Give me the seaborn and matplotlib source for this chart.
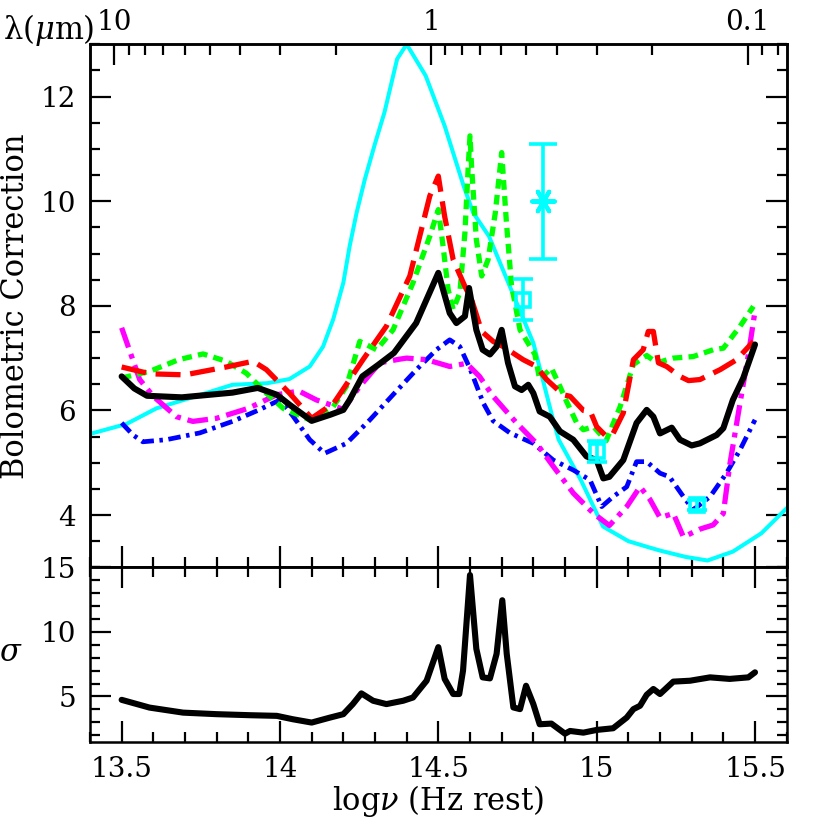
import numpy as np
import matplotlib
matplotlib.use("Agg")
import matplotlib.pyplot as plt
import seaborn as sns
from matplotlib.ticker import MultipleLocator, FixedLocator, FuncFormatter, NullFormatter

sns.set_style("ticks")
plt.rcParams['font.family'] = ['DejaVu Serif']
plt.rcParams['mathtext.fontset'] = 'dejavuserif'
plt.rcParams['lines.scale_dashes'] = False
for k in ('axes.edgecolor', 'xtick.color', 'ytick.color', 'text.color', 'axes.labelcolor'):
    plt.rcParams[k] = 'black'

# ---- data (log nu, bolometric correction) ----
cyan_x = [13.4, 13.515, 13.61, 13.75, 13.85, 13.96, 14.03, 14.094, 14.136, 14.168, 14.2, 14.22,
          14.242, 14.268, 14.3, 14.33, 14.37, 14.4, 14.46, 14.52, 14.58, 14.61, 14.66, 14.73,
          14.8, 14.86, 14.88, 14.95, 15.02, 15.1, 15.16, 15.2, 15.28, 15.35, 15.43, 15.52, 15.6]
cyan_y = [5.55, 5.74, 6.04, 6.30, 6.49, 6.52, 6.6, 6.84, 7.22, 7.74, 8.44, 9.14,
          9.78, 10.42, 11.1, 11.7, 12.72, 13.0, 12.40, 11.44, 10.29, 9.78, 9.33, 8.31,
          7.29, 5.88, 5.44, 4.67, 3.78, 3.5, 3.39, 3.32, 3.2, 3.13, 3.3, 3.65, 4.13]

black_x = [13.5, 13.54, 13.58, 13.69, 13.85, 13.93, 13.99, 14.03, 14.1, 14.16, 14.2, 14.22, 14.26,
           14.31, 14.36, 14.43, 14.5, 14.536, 14.557, 14.584, 14.597, 14.62, 14.64, 14.663, 14.684,
           14.7, 14.72, 14.742, 14.763, 14.784, 14.8, 14.82, 14.852, 14.884, 14.926, 14.968, 15.0,
           15.021, 15.04, 15.084, 15.126, 15.158, 15.179, 15.2, 15.237, 15.263, 15.3, 15.326,
           15.379, 15.4, 15.43, 15.463, 15.5]
black_y = [6.65, 6.42, 6.28, 6.25, 6.34, 6.43, 6.30, 6.11, 5.80, 5.92, 6.01, 6.2, 6.65,
           6.87, 7.1, 7.67, 8.63, 7.86, 7.67, 7.8, 8.34, 7.54, 7.16, 7.07, 7.22,
           7.54, 6.91, 6.46, 6.39, 6.49, 6.33, 5.98, 5.88, 5.6, 5.44, 5.12, 5.05,
           4.70, 4.73, 5.05, 5.76, 6.01, 5.88, 5.56, 5.67, 5.44, 5.33, 5.37,
           5.53, 5.66, 6.2, 6.62, 7.26]

red_x = [13.5, 13.59, 13.7, 13.83, 13.915, 13.957, 14.03, 14.1, 14.17, 14.22, 14.262, 14.336, 14.41,
         14.473, 14.5, 14.52, 14.547, 14.584, 14.605, 14.637, 14.673, 14.705, 14.768, 14.81, 14.842,
         14.894, 14.916, 14.958, 14.98, 15.0, 15.031, 15.052, 15.084, 15.116, 15.147, 15.163, 15.179,
         15.195, 15.221, 15.263, 15.29, 15.326, 15.39, 15.442, 15.495]
red_y = [6.83, 6.70, 6.68, 6.83, 6.94, 6.78, 6.33, 5.85, 6.14, 6.59, 6.97, 7.61, 8.57,
         10.1, 10.48, 9.71, 8.88, 8.37, 8.12, 7.51, 7.32, 7.22, 6.97, 6.84, 6.59,
         6.30, 6.27, 6.0, 5.98, 5.69, 5.5, 5.56, 5.95, 6.97, 7.16, 7.51, 7.51,
         6.91, 6.84, 6.65, 6.57, 6.59, 6.78, 6.97, 7.32]

green_x = [13.5, 13.59, 13.68, 13.757, 13.83, 13.894, 13.957, 14.01, 14.094, 14.168, 14.21, 14.252,
           14.305, 14.357, 14.42, 14.473, 14.5, 14.515, 14.531, 14.547, 14.568, 14.584, 14.594, 14.6,
           14.605, 14.62, 14.637, 14.657, 14.68, 14.7, 14.715, 14.731, 14.758, 14.805, 14.82, 14.857,
           14.884, 14.905, 14.937, 14.958, 14.99, 15.03, 15.074, 15.116, 15.158, 15.19, 15.242,
           15.305, 15.368, 15.4, 15.453, 15.495]
green_y = [6.62, 6.75, 6.97, 7.08, 6.94, 6.71, 6.33, 6.04, 5.82, 6.07, 6.46, 7.32,
           7.16, 7.54, 8.44, 9.33, 9.84, 9.14, 8.31, 7.93, 8.25, 9.4, 10.61, 11.25,
           10.67, 9.27, 8.57, 8.88, 9.78, 10.93, 9.6, 8.4, 7.54, 7.07, 6.59, 6.81,
           6.46, 6.17, 5.76, 5.63, 5.69, 5.42, 6.07, 6.88, 7.05, 6.91, 7.0,
           7.03, 7.16, 7.19, 7.61, 7.99]

magenta_x = [13.5, 13.557, 13.6, 13.673, 13.725, 13.8, 13.9, 13.99, 14.06, 14.115, 14.168, 14.2,
             14.252, 14.315, 14.378, 14.4, 14.463, 14.536, 14.589, 14.63, 14.673, 14.747, 14.81,
             14.863, 14.926, 14.99, 15.04, 15.095, 15.137, 15.168, 15.2, 15.242, 15.274, 15.326,
             15.368, 15.4, 15.42, 15.453, 15.48, 15.5]
magenta_y = [7.58, 6.59, 6.27, 5.88, 5.79, 5.85, 6.04, 6.3, 6.37, 6.2, 6.09, 6.02,
             6.46, 6.91, 6.98, 7.0, 6.97, 6.84, 6.9, 6.65, 6.27, 5.76, 5.37,
             4.93, 4.42, 4.03, 3.8, 4.16, 4.54, 4.3, 3.95, 4.03, 3.58, 3.73,
             3.81, 4.03, 4.95, 6.15, 7.1, 7.9]

blue_x = [13.5, 13.536, 13.567, 13.641, 13.747, 13.85, 13.93, 14.0, 14.04, 14.094, 14.141, 14.21,
          14.284, 14.357, 14.431, 14.494, 14.536, 14.568, 14.6, 14.642, 14.673, 14.726, 14.8,
          14.863, 14.926, 14.979, 15.016, 15.052, 15.095, 15.126, 15.158, 15.2, 15.23, 15.274,
          15.305, 15.358, 15.41, 15.453, 15.5]
blue_y = [5.76, 5.53, 5.40, 5.44, 5.57, 5.79, 6.0, 6.2, 5.9, 5.44, 5.18, 5.37,
          5.82, 6.3, 6.78, 7.16, 7.35, 7.22, 6.8, 6.14, 5.8, 5.57, 5.37,
          5.05, 4.86, 4.67, 4.16, 4.35, 4.54, 5.02, 5.02, 4.8, 4.73, 4.35,
          4.1, 4.35, 4.8, 5.25, 5.82]

# observed points
sq_x = [14.768, 15.0, 15.316]
sq_y = [8.12, 5.22, 4.19]
sq_err = [0.39, 0.2, 0.1]
star_x = [14.831]
star_y = [10.0]
star_err = [1.1]

# dispersion panel
sig_x = [13.5, 13.588, 13.694, 13.8, 13.905, 13.99, 14.04, 14.1, 14.157, 14.2, 14.23, 14.257, 14.294,
         14.336, 14.389, 14.42, 14.463, 14.5, 14.52, 14.547, 14.566, 14.578, 14.6, 14.62, 14.64,
         14.663, 14.684, 14.702, 14.716, 14.737, 14.758, 14.777, 14.8, 14.82, 14.857, 14.9, 14.916,
         14.958, 15.0, 15.052, 15.095, 15.116, 15.137, 15.158, 15.179, 15.2, 15.242, 15.295,
         15.358, 15.42, 15.479, 15.5]
sig_y = [4.74, 4.14, 3.75, 3.63, 3.55, 3.5, 3.24, 2.98, 3.36, 3.63, 4.41, 5.24, 4.67,
         4.41, 4.67, 4.92, 6.22, 8.82, 6.36, 5.19, 5.19, 7.0, 14.4, 8.69, 6.48,
         6.4, 8.3, 12.45, 8.3, 4.15, 4.02, 5.83, 4.41, 2.85, 2.9, 2.12, 2.33,
         2.2, 2.41, 2.54, 3.37, 4.02, 4.28, 5.13, 5.58, 5.19, 6.15, 6.22,
         6.48, 6.36, 6.48, 6.87]

lam_major = [10, 1, 0.1]
lam_minor = [9, 8, 7, 6, 5, 4, 3, 2, 0.9, 0.8, 0.7, 0.6, 0.5, 0.4, 0.3, 0.2, 0.09, 0.08]
LOG_C = np.log10(2.998e14)  # micron / s

FS = 20
LFS = 22

fig = plt.figure(figsize=(8.3, 8.3), dpi=100)
ax = fig.add_axes([0.1084, 0.3165, 0.8394, 0.6301])
ax2 = fig.add_axes([0.1084, 0.1064, 0.8394, 0.2101])


def draw(a, x, y, color, lw, ls='-'):
    sns.lineplot(x=x, y=y, ax=a, color=color, lw=lw, linestyle=ls,
                 estimator=None, sort=False)


draw(ax, cyan_x, cyan_y, '#00FFFF', 2.9)
draw(ax, blue_x, blue_y, '#0000FF', 3.4, (0, (9, 4, 2.5, 4)))
draw(ax, magenta_x, magenta_y, '#FF00FF', 3.8, (0, (15, 5, 3.5, 5)))
draw(ax, green_x, green_y, '#00FF00', 3.8, (0, (7, 4.5)))
draw(ax, red_x, red_y, '#FF0000', 3.8, (0, (18, 7)))
draw(ax, black_x, black_y, 'black', 4.4)

ax.errorbar(sq_x, sq_y, yerr=sq_err, fmt='s', mfc='none', mec='#00FFFF', ecolor='#00FFFF',
            ms=10, mew=2.6, capsize=7, elinewidth=2.6, capthick=2.6, zorder=5)
ax.errorbar(star_x, star_y, yerr=star_err, fmt='none', ecolor='#00FFFF',
            capsize=10, elinewidth=2.6, capthick=2.6, zorder=5)
sns.scatterplot(x=star_x, y=star_y, ax=ax, marker=(6, 2, 90), s=260, color='#00FFFF',
                linewidth=3, zorder=6)

draw(ax2, sig_x, sig_y, 'black', 4.4)

fmt = FuncFormatter(lambda v, p: '%g' % v)
for a in (ax, ax2):
    a.set_xlim(13.4, 15.6)
    a.xaxis.set_major_locator(MultipleLocator(0.5))
    a.xaxis.set_minor_locator(MultipleLocator(0.1))
    a.tick_params(which='both', direction='in', width=1.6, labelsize=FS,
                  left=True, right=True, bottom=True)
    a.tick_params(which='major', length=15)
    a.tick_params(which='minor', length=7)
    for s in a.spines.values():
        s.set_linewidth(1.8)
        s.set_visible(True)
    a.set_xlabel('')
    a.set_ylabel('')

ax.set_ylim(3, 13)
ax.yaxis.set_major_locator(MultipleLocator(2))
ax.yaxis.set_minor_locator(MultipleLocator(0.5))
ax.tick_params(which='both', top=False, labelbottom=False, pad=10)

ax2.set_ylim(1.5, 15)
ax2.yaxis.set_major_locator(MultipleLocator(5))
ax2.yaxis.set_minor_locator(MultipleLocator(1))
ax2.tick_params(which='both', top=True, pad=10)
ax2.xaxis.set_major_formatter(fmt)

# wavelength axis on top
axt = ax.twiny()
axt.set_xlim(13.4, 15.6)
axt.xaxis.set_major_locator(FixedLocator([LOG_C - np.log10(l) for l in lam_major]))
axt.xaxis.set_minor_locator(FixedLocator([LOG_C - np.log10(l) for l in lam_minor]))
axt.set_xticklabels(['%g' % l for l in lam_major])
axt.xaxis.set_minor_formatter(NullFormatter())
axt.tick_params(which='both', direction='in', width=1.6, labelsize=FS, pad=6)
axt.tick_params(which='major', length=15)
axt.tick_params(which='minor', length=8)
for s in axt.spines.values():
    s.set_linewidth(1.8)

ax.set_ylabel('Bolometric Correction', fontsize=LFS)
ax.yaxis.set_label_coords(-0.085, 0.5)
fig.text(11 / 830, 1 - 652 / 830, r'$\sigma$', fontsize=LFS, ha='center', va='center')
ax2.set_xlabel(r'log$\nu$ (Hz rest)', fontsize=LFS, labelpad=0)
fig.text(0.004, 0.964, r'λ($\mu$m)', fontsize=LFS, ha='left', va='center')

fig.savefig('out.png', dpi=100)
